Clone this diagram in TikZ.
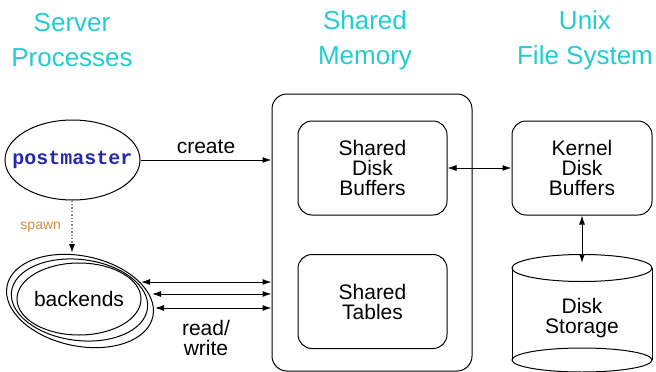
\documentclass[tikz,border=0pt]{standalone}
\usepackage{fontspec}
\setmainfont{Liberation Sans}
\setmonofont{Liberation Mono}
\usetikzlibrary{shapes.geometric,arrows.meta}
\definecolor{headcyan}{RGB}{34,204,210}
\definecolor{pmblue}{RGB}{40,40,170}
\definecolor{spawnorange}{RGB}{212,140,60}
\begin{document}
\begin{tikzpicture}[x=1pt,y=-1pt,
  line width=1pt,
  header/.style={text=headcyan,align=center,font=\fontsize{26}{35}\selectfont},
  lbl/.style={align=center,font=\fontsize{21}{20}\selectfont},
  rbox/.style={draw,rounded corners=14pt,minimum width=149pt,minimum height=94pt,inner sep=0pt,align=center,font=\fontsize{21}{20}\selectfont},
  proc/.style={draw,ellipse,inner sep=0pt},
  arr/.style={-{Latex[length=9pt,width=6pt]}},
  darr/.style={{Latex[length=9pt,width=6pt]}-{Latex[length=9pt,width=6pt]}}]
\useasboundingbox (0,0) rectangle (656,372);

% column headings
\node[header] (hsp) at (72,40) {Server\\Processes};
\node[header] (hsm) at (365,40) {Shared\\Memory};
\node[header] (hfs) at (585,40) {Unix\\File System};

% shared memory region and its parts
\node[draw,rounded corners=15pt,minimum width=200pt,minimum height=277pt,inner sep=0pt] (sm) at (372,232.5) {};
\node[rbox] (sdb) at (372.5,168) {Shared\\Disk\\Buffers};
\node[rbox] (st) at (372.5,301.5) {Shared\\Tables};

% file system side
\node[rbox,minimum width=140pt] (kdb) at (582,168) {Kernel\\Disk\\Buffers};
\draw (512,268) -- (512,360) (652,268) -- (652,360);
\draw (582,268) ellipse [x radius=70pt,y radius=13.5pt];
\draw (582,360) ellipse [x radius=70pt,y radius=12pt];
\node[lbl] (ds) at (582,318) {Disk\\Storage};
\coordinate (dstop) at (582,263);

% server processes
\node[proc,minimum width=135pt,minimum height=80pt] (pm) at (72.5,160) {};
\node[font=\fontsize{20}{20}\selectfont\ttfamily\bfseries,text=pmblue] (pmt) at (pm.center) {postmaster};
\node[proc,minimum width=124pt,minimum height=72pt] (b1) at (79,299) {};
\node[proc,minimum width=137pt,minimum height=81pt,rotate=-7] (b2) at (79.5,300) {};
\node[proc,minimum width=149pt,minimum height=90pt,rotate=-12] (b3) at (80,301) {};
\node[lbl] (bk) at (79,299) {backends};
\coordinate (btop) at (72,253);

% connectors
\draw[arr] (pm.east) -- (pm.east -| sm.west) node[midway,above=2pt,lbl] (cr) {create};
\draw[gray,line width=1.4pt,dotted,-{Latex[length=9pt,width=6pt,black]}] (pm.south -| btop) -- (btop)
  node[midway,left=7pt,text=spawnorange,font=\fontsize{14}{14}\selectfont] (sp) {spawn};

\coordinate (r1) at (141,282);
\coordinate (r2) at (152,294);
\coordinate (r3) at (155,308);
\draw[darr] (r1) -- (r1 -| sm.west);
\draw[darr] (r2) -- (r2 -| sm.west);
\draw[darr] (r3) -- (r3 -| sm.west);
\node[lbl] (rw) at (206,338) {read/\\write};

\draw[darr] (sdb.east) -- (kdb.west);
\draw[darr] (kdb.south) -- (dstop);
\end{tikzpicture}
\end{document}
